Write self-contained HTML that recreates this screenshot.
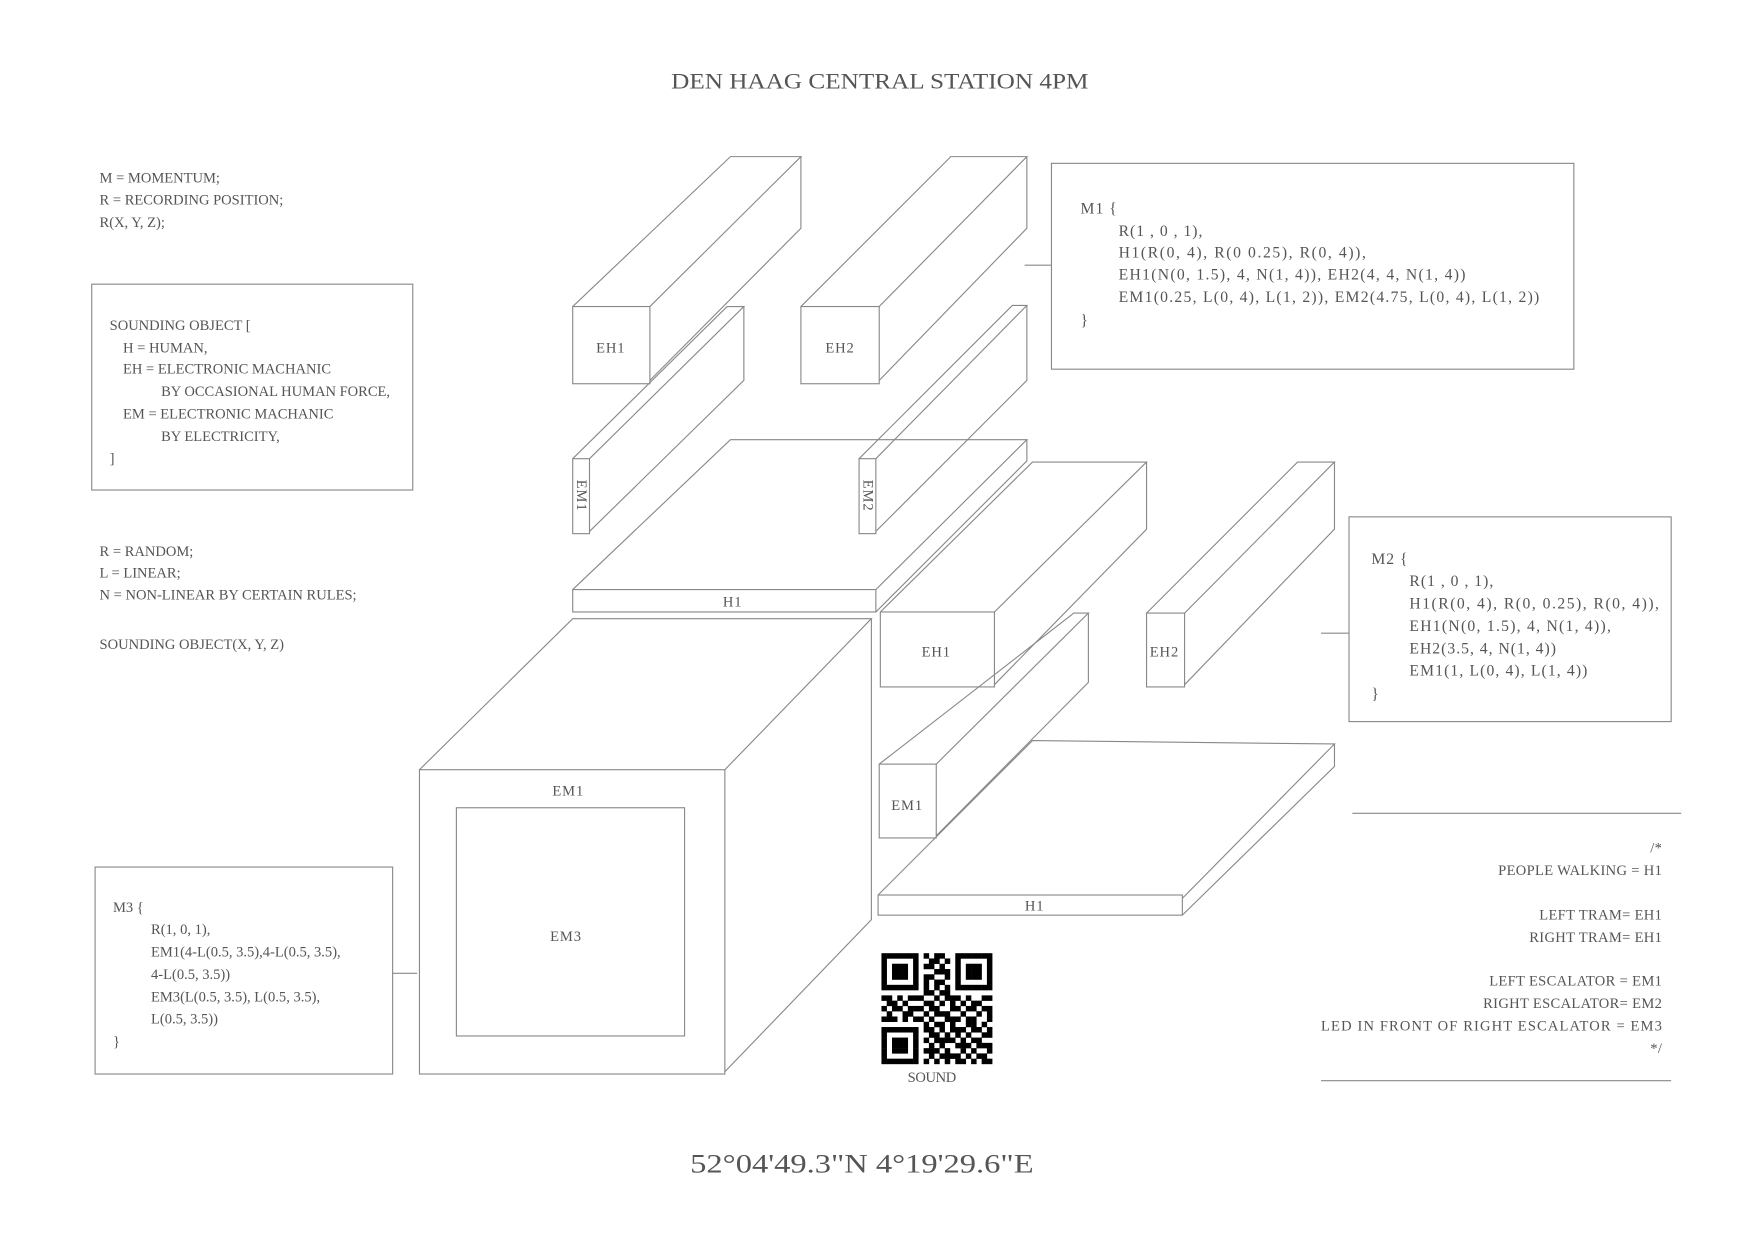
<!DOCTYPE html>
<html><head><meta charset="utf-8"><style>
html,body{margin:0;padding:0;background:#fff;}
svg{display:block;}
text{font-family:"Liberation Serif",serif;fill:#555;}
.s{font-size:13px;letter-spacing:0px;}
.r{font-size:13px;letter-spacing:0.3px;}
.m{font-size:14px;letter-spacing:0.9px;}
.l{font-size:13px;letter-spacing:0.8px;}
</style></head><body>
<svg id="sv" width="1745" height="1234" viewBox="0 0 1560 1103" preserveAspectRatio="none" xmlns="http://www.w3.org/2000/svg">
<rect width="1560" height="1103" fill="#fff"/>
<g fill="none" stroke="#888" stroke-width="1">
<rect x="512" y="274" width="69" height="69"/>
<polyline points="512,274 653,140 716,140 581,274"/>
<polyline points="716,140 716,204 581,340"/>
<rect x="716" y="274" width="70" height="69"/>
<polyline points="716,274 850,140 918,140 786,274"/>
<polyline points="918,140 918,204 786,340"/>
<rect x="512" y="410" width="15" height="67"/>
<polyline points="512,410 650,274 665,274 527,410"/>
<polyline points="665,274 665,340 527,475"/>
<rect x="768" y="410" width="15" height="67"/>
<polyline points="768,410 905,273 918,273 783,410"/>
<polyline points="918,273 918,340 783,475"/>
<rect x="512" y="527" width="271" height="20"/>
<polyline points="512,527 653,393 918,393 783,527"/>
<polyline points="918,393 918,412 783,547"/>
<rect x="787" y="547" width="102" height="67"/>
<polyline points="787,547 923,413 1025,413 889,547"/>
<polyline points="1025,413 1025,473 889,612"/>
<rect x="1025" y="548" width="34" height="66"/>
<polyline points="1025,548 1160,413 1193,413 1059,548"/>
<polyline points="1193,413 1193,473 1059,612"/>
<rect x="786" y="683" width="51" height="66"/>
<polyline points="786,683 960,548 973,548 837,683"/>
<polyline points="973,548 973,610 837,747"/>
<rect x="785" y="800" width="272" height="18"/>
<polyline points="785,800 923,662 1193,665 1057,803"/>
<polyline points="1193,665 1193,685 1057,818"/>
<rect x="375" y="688" width="273" height="272"/>
<polyline points="375,688 512,553 779,553 648,688"/>
<polyline points="779,553 779,822 648,958"/>
<rect x="408" y="722" width="204" height="204"/>
<rect x="82" y="254" width="287" height="184"/>
<rect x="85" y="775" width="266" height="185"/>
<rect x="940" y="146" width="467" height="184"/>
<rect x="1206" y="462" width="288" height="183"/>
<line x1="351" y1="870" x2="373" y2="870"/>
<line x1="916" y1="237" x2="940" y2="237"/>
<line x1="1181" y1="566" x2="1206" y2="566"/>
<line x1="1209" y1="727" x2="1503" y2="727"/>
<line x1="1181" y1="966" x2="1494" y2="966"/>
</g>
<text x="600" y="79" textLength="373" lengthAdjust="spacingAndGlyphs" style="font-size:20px">DEN HAAG CENTRAL STATION 4PM</text>
<g class="s">
<text x="89" y="163">M = MOMENTUM;</text>
<text x="89" y="183">R = RECORDING POSITION;</text>
<text x="89" y="203">R(X, Y, Z);</text>
<text x="98" y="295">SOUNDING OBJECT [</text>
<text x="110" y="315">H = HUMAN,</text>
<text x="110" y="334">EH = ELECTRONIC MACHANIC</text>
<text x="144" y="354">BY OCCASIONAL HUMAN FORCE,</text>
<text x="110" y="374">EM = ELECTRONIC MACHANIC</text>
<text x="144" y="394">BY ELECTRICITY,</text>
<text x="98" y="414">]</text>
<text x="89" y="497">R = RANDOM;</text>
<text x="89" y="516">L = LINEAR;</text>
<text x="89" y="536">N = NON-LINEAR BY CERTAIN RULES;</text>
<text x="89" y="580">SOUNDING OBJECT(X, Y, Z)</text>
<text x="101" y="815">M3 {</text>
<text x="135" y="835">R(1, 0, 1),</text>
<text x="135" y="855">EM1(4-L(0.5, 3.5),4-L(0.5, 3.5),</text>
<text x="135" y="875">4-L(0.5, 3.5))</text>
<text x="135" y="895">EM3(L(0.5, 3.5), L(0.5, 3.5),</text>
<text x="135" y="915">L(0.5, 3.5))</text>
<text x="101" y="935">}</text>
</g>
<g class="m">
<text x="966" y="191">M1 {</text>
<text x="1000" y="211">R(1 , 0 , 1),</text>
<text x="1000" y="230" textLength="222">H1(R(0, 4), R(0  0.25), R(0, 4)),</text>
<text x="1000" y="250" textLength="311">EH1(N(0, 1.5), 4, N(1, 4)), EH2(4, 4, N(1, 4))</text>
<text x="1000" y="270" textLength="377">EM1(0.25, L(0, 4), L(1, 2)), EM2(4.75, L(0, 4), L(1, 2))</text>
<text x="966" y="291">}</text>
<text x="1226" y="504">M2 {</text>
<text x="1260" y="524">R(1 , 0 , 1),</text>
<text x="1260" y="544" textLength="224">H1(R(0, 4), R(0, 0.25), R(0, 4)),</text>
<text x="1260" y="564" textLength="181">EH1(N(0, 1.5), 4, N(1, 4)),</text>
<text x="1260" y="584">EH2(3.5, 4, N(1, 4))</text>
<text x="1260" y="604" textLength="160">EM1(1, L(0, 4), L(1, 4))</text>
<text x="1226" y="625">}</text>
</g>
<g class="r" text-anchor="end">
<text x="1486" y="762">/*</text>
<text x="1486" y="782">PEOPLE WALKING = H1</text>
<text x="1486" y="822">LEFT TRAM= EH1</text>
<text x="1486" y="842">RIGHT TRAM= EH1</text>
<text x="1486" y="881">LEFT ESCALATOR = EM1</text>
<text x="1486" y="901">RIGHT ESCALATOR= EM2</text>
<text x="1181" y="921" text-anchor="start" textLength="305">LED IN FRONT OF RIGHT ESCALATOR = EM3</text>
<text x="1486" y="941">*/</text>
</g>
<g class="l" text-anchor="middle">
<text x="546" y="315">EH1</text>
<text x="751" y="315">EH2</text>
<text x="655" y="542">H1</text>
<text x="837" y="587">EH1</text>
<text x="1041" y="587">EH2</text>
<text x="811" y="724">EM1</text>
<text x="925" y="814">H1</text>
<text x="508" y="711">EM1</text>
<text x="506" y="841">EM3</text>
<text transform="translate(516,443) rotate(90)">EM1</text>
<text transform="translate(772,443) rotate(90)">EM2</text>
<text x="833" y="967" style="letter-spacing:-0.3px">SOUND</text>
</g>
<text x="617" y="1048" textLength="307" lengthAdjust="spacingAndGlyphs" style="font-size:24px">52°04'49.3"N 4°19'29.6"E</text>
<g id="qr" fill="#000"></g>
</svg>
<script>
var rows=["111111101011001111111","100000100110101000001","101110101101001011101","101110100011101011101","101110101100101011101","100000101011001000001","111111101010101111111","000000001101100000000","110101110010111010011","011010001101010101100","101101110110011011011","010011001011100100101","111010110100111011001","000000001011010011010","111111101101011101101","100000100110101010011","101110101011110101100","101110100101001110111","101110101110100101001","100000100101111010110","111111101010101101011"];
var g=document.getElementById('qr'),s=99/21,h='';
for(var r=0;r<21;r++)for(var c=0;c<21;c++)if(rows[r][c]=='1')h+='<rect x="'+(788+c*s)+'" y="'+(852+r*s)+'" width="'+(s+0.2)+'" height="'+(s+0.2)+'"/>';
g.innerHTML=h;
</script>
</body></html>
